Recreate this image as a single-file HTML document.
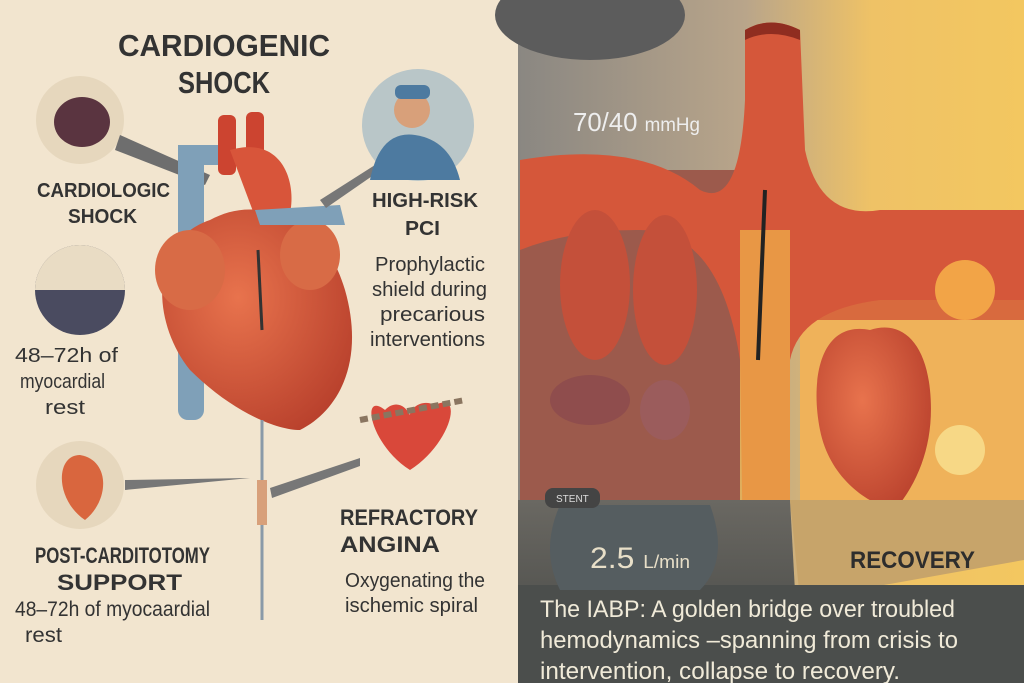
<!DOCTYPE html>
<html><head><meta charset="utf-8"><style>
html,body{margin:0;padding:0;width:1024px;height:683px;overflow:hidden}
svg{display:block}
text{font-family:"Liberation Sans",sans-serif}
</style></head><body>
<svg width="1024" height="683" viewBox="0 0 1024 683" xmlns="http://www.w3.org/2000/svg">
<defs>
<linearGradient id="rt" x1="0" y1="0" x2="1" y2="0">
<stop offset="0" stop-color="#8a8782"/><stop offset="0.45" stop-color="#b9a58a"/><stop offset="0.7" stop-color="#efc266"/><stop offset="1" stop-color="#f3c760"/></linearGradient>
<linearGradient id="bt" x1="0" y1="0" x2="0" y2="1">
<stop offset="0" stop-color="#6a6862"/><stop offset="1" stop-color="#434543"/></linearGradient>
<radialGradient id="hg" cx="0.4" cy="0.4" r="0.7"><stop offset="0" stop-color="#e8734d"/><stop offset="1" stop-color="#b8402c"/></radialGradient>
<clipPath id="c2"><circle cx="80" cy="290" r="45"/></clipPath>
</defs>
<rect x="0" y="0" width="518" height="683" fill="#f2e5cf"/>
<rect x="518" y="0" width="506" height="683" fill="url(#rt)"/>
<ellipse cx="590" cy="15" rx="95" ry="45" fill="#5c5c5c"/>
<rect x="520" y="170" width="220" height="360" fill="#9c5a4c"/>
<rect x="800" y="230" width="224" height="90" fill="#d86a3e"/>
<rect x="800" y="320" width="224" height="200" fill="#efb25a"/>
<path d="M520 160 Q640 140 700 190 Q740 210 745 100 L745 30 Q770 15 800 30 L805 150 Q820 220 880 210 L1024 210 L1024 300 L880 300 Q800 310 790 360 L790 683 L745 683 L740 360 Q720 230 640 230 Q570 230 520 250 Z" fill="#d5573a"/>
<path d="M745 30 Q770 15 800 30 L800 40 Q770 28 745 40Z" fill="#8f2d20"/>
<rect x="740" y="230" width="50" height="300" fill="#f0b24a" opacity="0.7"/>
<line x1="765" y1="190" x2="758" y2="360" stroke="#222" stroke-width="4"/>
<ellipse cx="595" cy="285" rx="35" ry="75" fill="#c4503a"/>
<ellipse cx="665" cy="290" rx="32" ry="75" fill="#c4503a"/>
<ellipse cx="590" cy="400" rx="40" ry="25" fill="#8f4d4d"/>
<ellipse cx="665" cy="410" rx="25" ry="30" fill="#9b5c5c"/>
<path d="M870 330 C820 320 810 380 820 430 C830 480 870 505 895 510 C920 480 935 440 930 390 C925 340 900 320 870 330Z" fill="url(#hg)"/>
<circle cx="960" cy="450" r="25" fill="#f7d886"/>
<circle cx="965" cy="290" r="30" fill="#f2a447"/>
<path d="M518 500 L790 500 L800 683 L518 683Z" fill="url(#bt)"/>
<path d="M790 500 L1024 500 L1024 560 L800 600Z" fill="#c7a46a"/>
<rect x="518" y="585" width="506" height="98" fill="#4b4e4c"/>
<path d="M560 505 L710 505 Q730 560 700 590 L560 590 Q540 550 560 505Z" fill="#555d60"/>
<rect x="545" y="488" width="55" height="20" rx="8" fill="#444"/>
<text x="556" y="502" font-size="10" fill="#ddd">STENT</text>
<text x="573" y="131" font-size="26" fill="#eee" textLength="127" lengthAdjust="spacingAndGlyphs">70/40 <tspan font-size="19">mmHg</tspan></text>
<text x="590" y="568" font-size="30" fill="#e8dfc8" textLength="100" lengthAdjust="spacingAndGlyphs">2.5 <tspan font-size="18">L/min</tspan></text>
<text x="850" y="568" font-size="24" font-weight="bold" fill="#2d2d2d" textLength="125" lengthAdjust="spacingAndGlyphs">RECOVERY</text>
<g font-size="24" fill="#f0ead8">
<text x="540" y="617" textLength="415" lengthAdjust="spacingAndGlyphs">The IABP: A golden bridge over troubled</text>
<text x="540" y="648" textLength="418" lengthAdjust="spacingAndGlyphs">hemodynamics –spanning from crisis to</text>
<text x="540" y="679" textLength="360" lengthAdjust="spacingAndGlyphs">intervention, collapse to recovery.</text>
</g>
<g fill="#333" font-weight="bold">
<text x="118" y="56" font-size="31" textLength="212" lengthAdjust="spacingAndGlyphs">CARDIOGENIC</text>
<text x="178" y="93" font-size="31" textLength="92" lengthAdjust="spacingAndGlyphs">SHOCK</text>
</g>
<circle cx="80" cy="120" r="44" fill="#e6d7bd"/>
<ellipse cx="82" cy="122" rx="28" ry="25" fill="#5a3440"/>
<polygon points="120,135 210,175 205,185 115,150" fill="#6e6e6e"/>
<g clip-path="url(#c2)">
<rect x="30" y="240" width="100" height="100" fill="#4a4b60"/>
<rect x="30" y="240" width="100" height="50" fill="#e9dcc4"/>
</g>
<circle cx="80" cy="485" r="44" fill="#e6d7bd"/>
<path d="M80 455 C55 455 55 500 85 520 C110 500 110 460 80 455Z" fill="#d9663e"/>
<polygon points="125,480 250,478 125,490" fill="#777"/>
<g fill="#333" font-size="20">
<text x="37" y="197" font-weight="bold" textLength="133" lengthAdjust="spacingAndGlyphs">CARDIOLOGIC</text>
<text x="68" y="223" font-weight="bold" textLength="69" lengthAdjust="spacingAndGlyphs">SHOCK</text>
<text x="15" y="362" textLength="103" lengthAdjust="spacingAndGlyphs">48–72h of</text>
<text x="20" y="388" textLength="85" lengthAdjust="spacingAndGlyphs">myocardial</text>
<text x="45" y="414" textLength="40" lengthAdjust="spacingAndGlyphs">rest</text>
<text x="35" y="563" font-weight="bold" font-size="22" textLength="175" lengthAdjust="spacingAndGlyphs">POST-CARDITOTOMY</text>
<text x="57" y="590" font-weight="bold" font-size="22" textLength="125" lengthAdjust="spacingAndGlyphs">SUPPORT</text>
<text x="15" y="616" font-size="21" textLength="195" lengthAdjust="spacingAndGlyphs">48–72h of myocaardial</text>
<text x="25" y="642" font-size="21" textLength="37" lengthAdjust="spacingAndGlyphs">rest</text>
</g>
<rect x="178" y="150" width="26" height="270" rx="10" fill="#7fa0b8"/>
<rect x="178" y="145" width="40" height="20" fill="#7fa0b8"/>
<rect x="218" y="115" width="18" height="60" rx="6" fill="#cc4430"/>
<rect x="246" y="112" width="18" height="60" rx="6" fill="#cc4430"/>
<path d="M230 150 C300 130 300 220 280 230 L260 230 Z" fill="#d8553a"/>
<path d="M210 220 C150 240 150 320 190 370 C230 410 275 430 300 430 C340 410 365 360 345 290 C330 240 300 215 260 210 C240 208 225 212 210 220Z" fill="url(#hg)"/>
<ellipse cx="190" cy="270" rx="35" ry="40" fill="#d86b46"/>
<ellipse cx="310" cy="255" rx="30" ry="35" fill="#d86b46"/>
<path d="M255 210 L340 205 L345 225 L260 225Z" fill="#7fa0b8"/>
<line x1="258" y1="250" x2="262" y2="330" stroke="#333" stroke-width="3"/>
<line x1="262" y1="420" x2="262" y2="620" stroke="#8a9aa8" stroke-width="3"/>
<rect x="257" y="480" width="10" height="45" fill="#d8a07a"/>
<polygon points="270,488 360,458 360,466 272,498" fill="#777"/>
<polygon points="320,200 375,165 378,172 326,208" fill="#777"/>
<circle cx="418" cy="125" r="56" fill="#b9c6c8"/>
<circle cx="412" cy="110" r="18" fill="#d8a07a"/>
<rect x="395" y="85" width="35" height="14" rx="6" fill="#4d7aa0"/>
<path d="M370 180 Q380 130 415 135 Q450 140 460 180Z" fill="#4d7aa0"/>
<path d="M385 410 C360 390 370 445 410 470 C450 445 465 390 435 405 C420 398 410 410 410 415 C405 405 395 400 385 410Z" fill="#d9483a"/>
<path d="M360 420 L465 400" stroke="#8a7560" stroke-width="6" stroke-dasharray="8 4"/>
<g fill="#333" font-size="20">
<text x="372" y="207" font-weight="bold" textLength="106" lengthAdjust="spacingAndGlyphs">HIGH-RISK</text>
<text x="405" y="235" font-weight="bold" textLength="35" lengthAdjust="spacingAndGlyphs">PCI</text>
<text x="375" y="271" textLength="110" lengthAdjust="spacingAndGlyphs">Prophylactic</text>
<text x="372" y="296" textLength="115" lengthAdjust="spacingAndGlyphs">shield during</text>
<text x="380" y="321" textLength="105" lengthAdjust="spacingAndGlyphs">precarious</text>
<text x="370" y="346" textLength="115" lengthAdjust="spacingAndGlyphs">interventions</text>
<text x="340" y="525" font-weight="bold" font-size="22" textLength="138" lengthAdjust="spacingAndGlyphs">REFRACTORY</text>
<text x="340" y="552" font-weight="bold" font-size="22" textLength="100" lengthAdjust="spacingAndGlyphs">ANGINA</text>
<text x="345" y="587" textLength="140" lengthAdjust="spacingAndGlyphs">Oxygenating the</text>
<text x="345" y="612" textLength="133" lengthAdjust="spacingAndGlyphs">ischemic spiral</text>
</g>
</svg>
</body></html>
